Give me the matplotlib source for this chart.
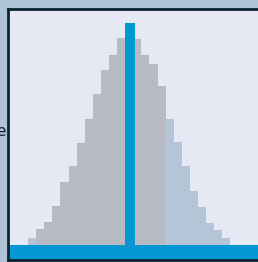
import matplotlib
matplotlib.use("Agg")
import matplotlib.pyplot as plt
import numpy as np

# histogram counts per bin (bin k spans [k, k+1])
bins = np.arange(25)
counts = [22, 31, 38, 54, 78, 94, 117, 141, 166, 190, 205, 222, 228,
          221, 205, 196, 174, 141, 118, 94, 69, 53, 37, 30, 22]
# second sample overlaps on these bins (drawn light blue)
overlay_bins = [0, 17, 18, 19, 20, 21, 22, 23, 24]

peak_x = 12.56
peak_h = 237
baseline_h = 15

fig = plt.figure(figsize=(2.58, 2.62), dpi=100)
fig.patch.set_facecolor("#afc3d6")
ax = fig.add_axes([7.5 / 258, 2 / 262, 256 / 258, 251.5 / 262])
ax.set_facecolor("#e6e8f4")

colors = ["#b3c5d6" if b in overlay_bins else "#b8bac6" for b in bins]
ax.bar(bins + 0.5, counts, width=1.0, color=colors, edgecolor="none")
ax.axhspan(0, baseline_h, color="#0596d6", lw=0)
ax.bar(peak_x, peak_h, width=1.24, color="#0596d6", edgecolor="none")

ax.set_xlim(-2.55, 29.1)
ax.set_ylim(0, 251.5)
ax.set_xticks([])
ax.set_yticks([])
for s in ax.spines.values():
    s.set_color("#0d2233")
    s.set_linewidth(2)
ax.spines["right"].set_visible(False)

# label partly cut off at the left edge, as in the source
fig.text(-4 / 258, 131 / 262, "e", fontsize=11, color="#0d2233", ha="left", va="center")

fig.savefig("out.png", dpi=100, facecolor=fig.get_facecolor())
